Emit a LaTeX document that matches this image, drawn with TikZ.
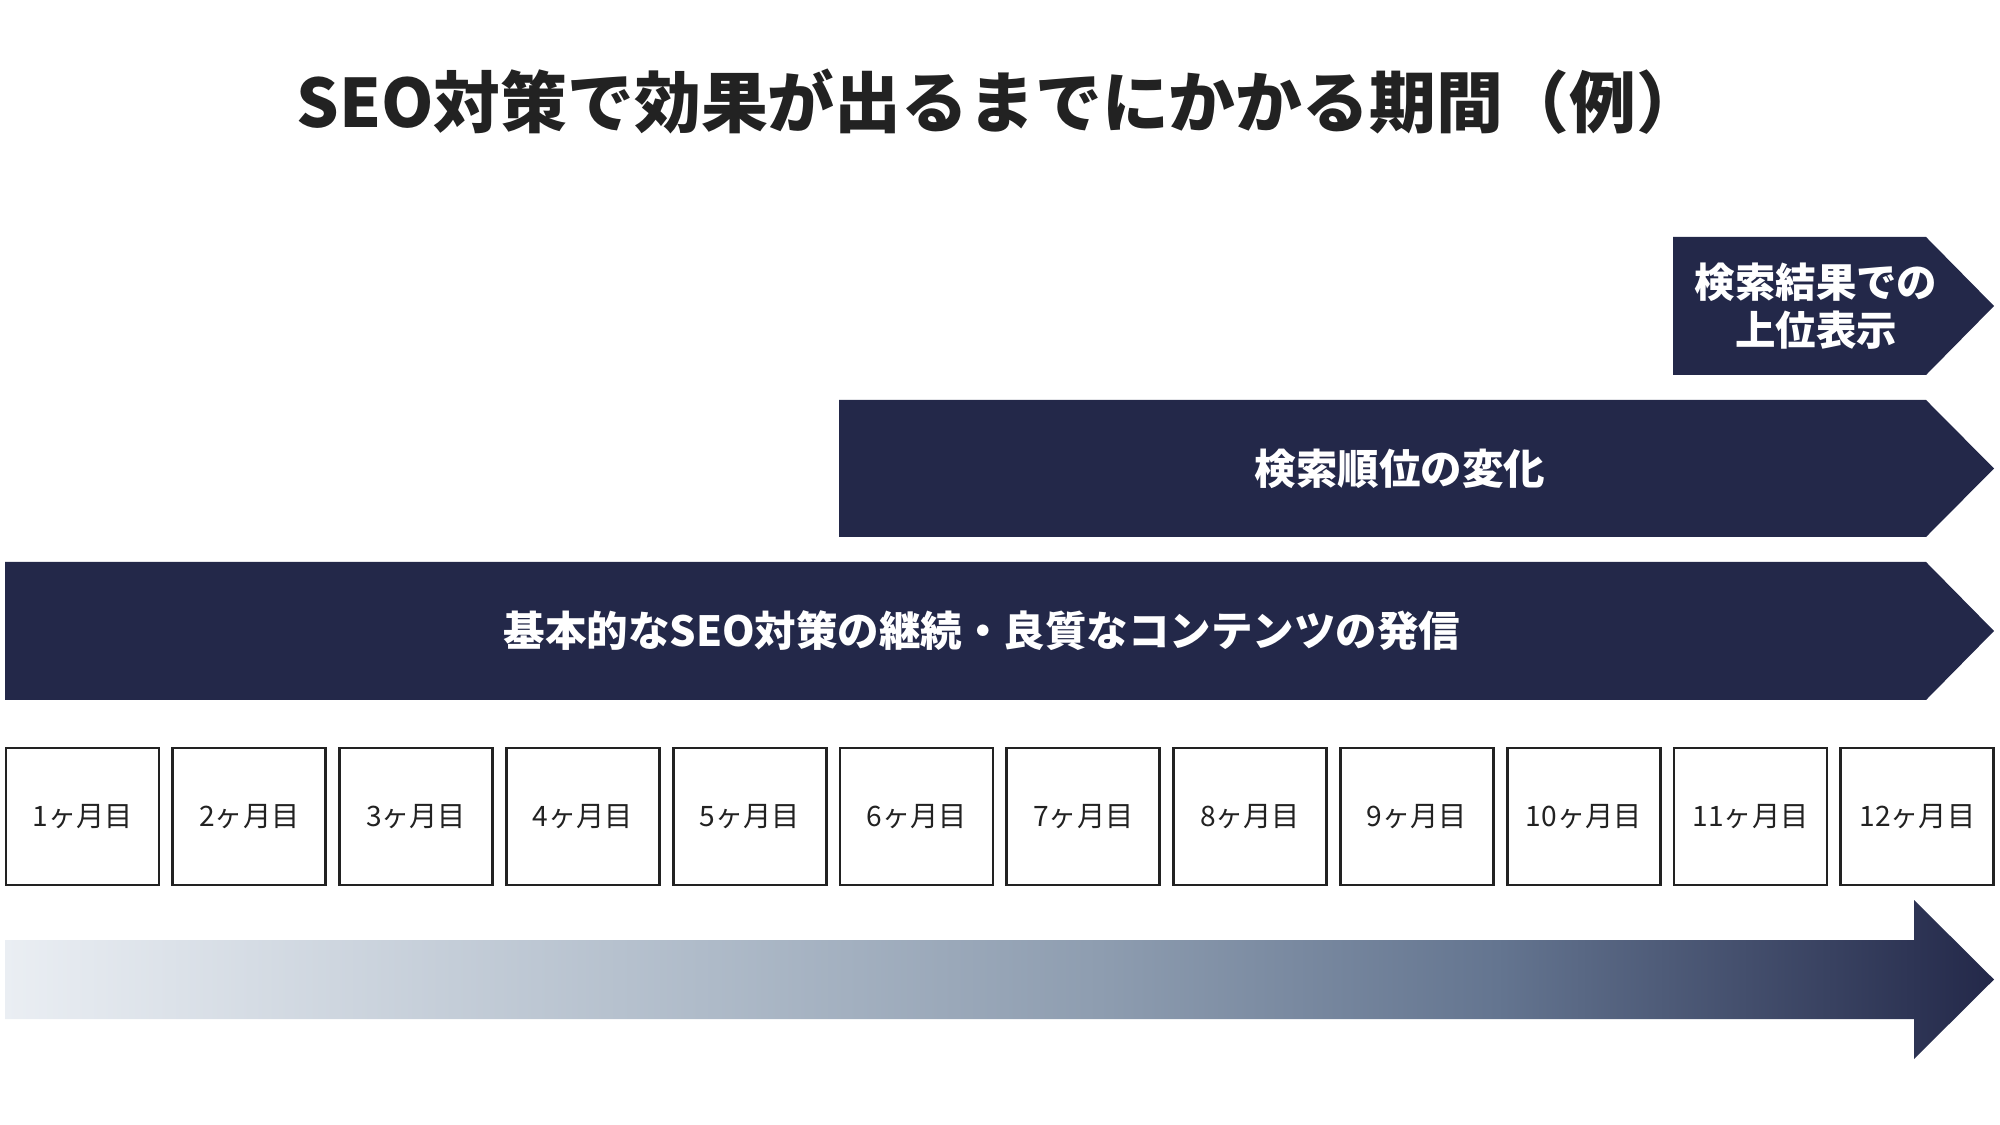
\documentclass[tikz,border=0pt]{standalone}
\usepackage{fontspec}
\setmainfont{Noto Sans CJK JP}
\usepackage{tikz}
\usetikzlibrary{positioning}
\definecolor{navy}{HTML}{232849}
\definecolor{inkgray}{HTML}{222222}
\definecolor{gradA}{HTML}{EAEEF3}
\definecolor{gradB}{HTML}{AFBBC9}
\definecolor{gradC}{HTML}{8E9DB0}
\definecolor{gradD}{HTML}{647590}
\pgfdeclarehorizontalshading{timegrad}{100bp}{color(0bp)=(gradA); color(25bp)=(gradA);
  color(42.5bp)=(gradB); color(52.5bp)=(gradC); color(62.5bp)=(gradD);
  color(75bp)=(navy); color(100bp)=(navy)}
\tikzset{monthbox/.style={draw=inkgray,line width=0.8pt,fill=white,
    minimum width=1.53cm,minimum height=1.37cm,inner sep=0pt,
    font=\fontsize{8}{10}\selectfont,text=inkgray},
  bartext/.style={text=white,align=center,
    font=\fontsize{11.8}{13.8}\selectfont\bfseries}}

\begin{document}
\begin{tikzpicture}[x=0.01cm,y=-0.01cm,line cap=round]

  \useasboundingbox (0,0) rectangle (2000,1125);

  \node [font=\fontsize{19}{22}\selectfont\bfseries,text=inkgray] (title) at (1000,102)
    {SEO対策で効果が出るまでにかかる期間（例）};


  \fill [navy] (1673,237) -- (1926,237) -- (1994,306) -- (1926,375) -- (1673,375) -- cycle;
  \fill [navy] (839,400) -- (1926,400) -- (1994,468.5) -- (1926,537) -- (839,537) -- cycle;
  \fill [navy] (5,562) -- (1926,562) -- (1994,631) -- (1926,700) -- (5,700) -- cycle;

  \node [bartext,font=\fontsize{11.5}{13.8}\selectfont\bfseries] (rank) at (1816,306)
    {検索結果での\\上位表示};
  \node [bartext] (change) at (1400,468.5) {検索順位の変化};
  \node [bartext] (basic) at (982,631) {基本的なSEO対策の継続・良質なコンテンツの発信};


  \foreach \m in {1,...,12}
    \node [monthbox] (month\m) at ({82.5+(\m-1)*166.8},816.5) {\m ヶ月目};


  \shade [shading=timegrad] (5,940) -- (1914,940) -- (1914,900) -- (1994,979.5)
    -- (1914,1059) -- (1914,1019) -- (5,1019) -- cycle;

\end{tikzpicture}
\end{document}
